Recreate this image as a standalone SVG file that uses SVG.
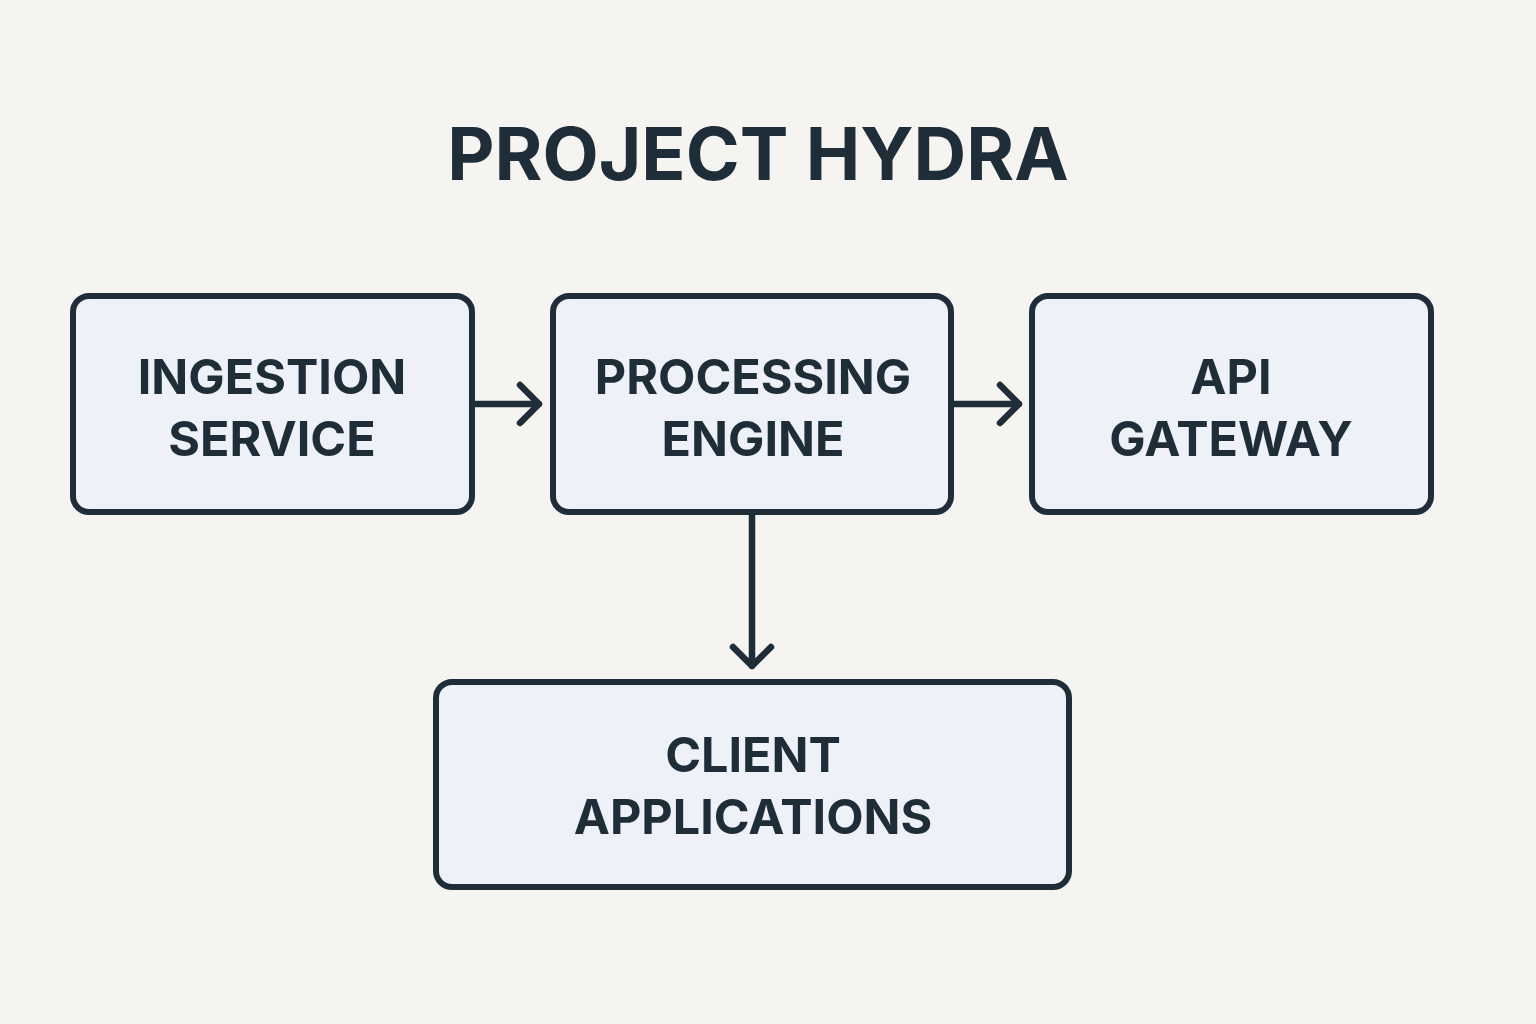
<svg xmlns="http://www.w3.org/2000/svg" width="1536" height="1024" viewBox="0 0 1536 1024">
<defs>
<style>
.bg{fill:#f5f4f1}
.box{fill:#eef2f8;stroke:#1f2d38;stroke-width:6}
.lbl{font-family:Inter,"Noto Sans","Liberation Sans",sans-serif;font-weight:700;font-size:48.5px;fill:#1f2d38;text-anchor:middle}
.title{font-family:Inter,"Noto Sans","Liberation Sans",sans-serif;font-weight:700;font-size:73px;fill:#1f2d38;text-anchor:middle}
.conn{fill:none;stroke:#1f2d38;stroke-width:6.5;stroke-linecap:round;stroke-linejoin:round}
</style>
</defs>
<rect class="bg" x="0" y="0" width="1536" height="1024"/>
<text class="title" x="758" y="180">PROJECT HYDRA</text>
<g id="connectors">
<path class="conn" d="M472 404 H539 M520 385 L539 404 L520 423"/>
<path class="conn" d="M951 404 H1019 M1000 385 L1019 404 L1000 423"/>
<path class="conn" d="M752 512 V666 M733 647 L752 666 L771 647"/>
</g>
<g id="ingestion">
<rect class="box" x="73" y="296" width="399" height="216" rx="16"/>
<text class="lbl" x="272" y="394">INGESTION</text>
<text class="lbl" x="272" y="456">SERVICE</text>
</g>
<g id="processing">
<rect class="box" x="553" y="296" width="398" height="216" rx="16"/>
<text class="lbl" x="753" y="394">PROCESSING</text>
<text class="lbl" x="753" y="456">ENGINE</text>
</g>
<g id="gateway">
<rect class="box" x="1032" y="296" width="399" height="216" rx="16"/>
<text class="lbl" x="1231" y="394">API</text>
<text class="lbl" x="1231" y="456">GATEWAY</text>
</g>
<g id="clients">
<rect class="box" x="436" y="682" width="633" height="205" rx="16"/>
<text class="lbl" x="753" y="772">CLIENT</text>
<text class="lbl" x="753" y="834">APPLICATIONS</text>
</g>
</svg>
